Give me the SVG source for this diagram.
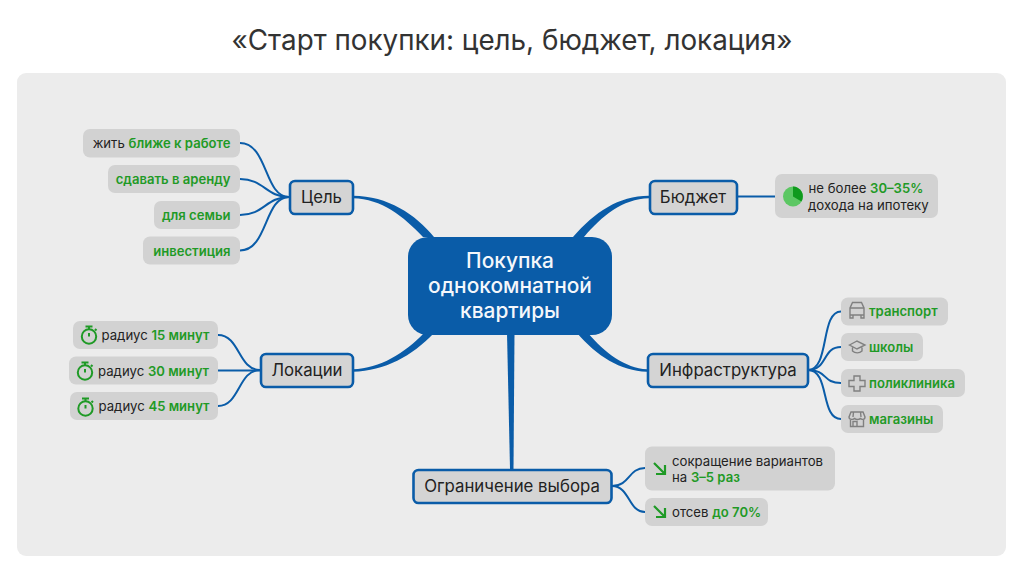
<svg xmlns="http://www.w3.org/2000/svg" width="1024" height="572" viewBox="0 0 1024 572">
<style>
text{font-family:Inter,"Noto Sans",sans-serif;fill:#222}
.title{font-size:27.800px;fill:#333;text-anchor:middle}
.c{font-size:20.900px;font-weight:500;fill:#f4f7fb;text-anchor:middle}
.n{font-size:16.800px;text-anchor:middle}
.nb{fill:#d4d4d4;stroke:#0a5ca8;stroke-width:2.600}
.lb{fill:#d2d2d2}
.l{font-size:13.200px}
.g{fill:#1f9a26;font-weight:600;font-size:13.100px}
.e{text-anchor:end}
.w{fill:none;stroke:#0a5ca8;stroke-width:2}
.ic{fill:none;stroke:#1f9a26;stroke-width:2}
.gr{fill:none;stroke:#808080;stroke-width:1.400}
</style>
<rect x="17" y="73" width="989" height="483" rx="9" fill="#ececec"/>
<text class="title" x="512" y="50">«Старт покупки: цель, бюджет, локация»</text>
<g id="connectors">
<path d="M353 195.700C388 196 415 214 434 237L423 237C403 216 382 199 353 198.300Z" fill="#0a5ca8"/>
<path d="M649 195.700C618 196 595 212 573 237L584 237C602 216 622 199 649 198.300Z" fill="#0a5ca8"/>
<path d="M353 369.300C380 368.500 405 353 424 333L434 333C412 356 385 371 353 371.700Z" fill="#0a5ca8"/>
<path d="M647 369.300C625 368 605 353 588 333L577 333C597 356 620 371 647 371.700Z" fill="#0a5ca8"/>
<path d="M507 333L514.500 333L513.500 469L510 469Z" fill="#0a5ca8"/>
<path class="w" d="M240 143C268 143 264 197 289 197"/>
<path class="w" d="M240 179C264 179 266 197 289 197"/>
<path class="w" d="M240 215C264 215 266 197 289 197"/>
<path class="w" d="M240 250.500C268 250.500 264 197 289 197"/>
<path class="w" d="M218 335C240 335 238 370 260 370"/>
<path class="w" d="M218 370.500L260 370.500"/>
<path class="w" d="M218 406C240 406 238 370 260 370"/>
<path class="w" d="M737 196.500L775 196.500"/>
<path class="w" d="M808 370C830 370 820 311.500 841 311.500"/>
<path class="w" d="M808 370C828 370 822 347 841 347"/>
<path class="w" d="M808 370C828 370 822 383 841 383"/>
<path class="w" d="M808 370C830 370 820 419 841 419"/>
<path class="w" d="M612 486C630 486 628 468 645 468"/>
<path class="w" d="M612 486C630 486 628 512 645 512"/>
</g>
<g id="center"><rect x="408" y="237" width="204" height="98" rx="20" fill="#0a5ca8"/>
<text class="c" x="510" y="268">Покупка</text><text class="c" x="510" y="293">однокомнатной</text><text class="c" x="510" y="318">квартиры</text></g>
<g id="n-goal"><rect class="nb" x="290" y="181" width="63" height="33" rx="5"/><text class="n" x="321.500" y="203">Цель</text></g>
<g id="n-budget"><rect class="nb" x="650" y="181" width="87" height="33" rx="5"/><text class="n" x="693" y="203">Бюджет</text></g>
<g id="n-loc"><rect class="nb" x="261" y="354" width="92" height="33" rx="5"/><text class="n" x="307" y="376">Локации</text></g>
<g id="n-infra"><rect class="nb" x="648" y="354" width="160" height="33" rx="5"/><text class="n" x="728" y="376">Инфраструктура</text></g>
<g id="n-limit"><rect class="nb" x="413.500" y="470" width="198" height="33" rx="5"/><text class="n" x="512" y="492">Ограничение выбора</text></g>
<g id="l-work"><rect class="lb" x="83" y="129" width="157" height="28.500" rx="7"/><text class="l e" x="230.500" y="148"><tspan>жить </tspan><tspan class="g">ближе к работе</tspan></text></g>
<g id="l-rent"><rect class="lb" x="108" y="165" width="132" height="28" rx="7"/><text class="l g e" x="230.500" y="184">сдавать в аренду</text></g>
<g id="l-family"><rect class="lb" x="154" y="201" width="86" height="28" rx="7"/><text class="l g e" x="230.500" y="220">для семьи</text></g>
<g id="l-invest"><rect class="lb" x="143" y="236.500" width="97" height="28" rx="7"/><text class="l g e" x="230.500" y="255.500">инвестиция</text></g>
<defs><g id="timer"><circle class="ic" cx="0" cy="1.500" r="7.200"/><path class="ic" d="M-3.500 -8.500H3.500M0 -8.500V-5.500M0 1.500V-2M6 -6L7.500 -4.500"/></g>
<g id="arrow"><path d="M1 1L12 12M12 3V12H3" fill="none" stroke="#1f9a26" stroke-width="2.200"/></g></defs>
<g id="l-15"><rect class="lb" x="73" y="321" width="145" height="28" rx="7"/><use href="#timer" x="89" y="335"/><text class="l" x="101.500" y="340"><tspan>радиус </tspan><tspan class="g">15 минут</tspan></text></g>
<g id="l-30"><rect class="lb" x="69" y="356.500" width="149" height="28" rx="7"/><use href="#timer" x="85" y="371"/><text class="l" x="98" y="375.500"><tspan>радиус </tspan><tspan class="g">30 минут</tspan></text></g>
<g id="l-45"><rect class="lb" x="70" y="392" width="148" height="28" rx="7"/><use href="#timer" x="85.500" y="407"/><text class="l" x="98.500" y="411"><tspan>радиус </tspan><tspan class="g">45 минут</tspan></text></g>
<g id="l-mortgage"><rect class="lb" x="775" y="174" width="163" height="44" rx="7"/><circle cx="793" cy="196.500" r="10" fill="#5cc763"/><path d="M793 196.500V186.500A10 10 0 0 1 801.500 201.500Z" fill="#0f9a1d"/>
<text class="l" x="808.500" y="193"><tspan>не более </tspan><tspan class="g">30–35%</tspan></text><text class="l" x="808" y="209.500">дохода на ипотеку</text></g>
<g id="l-transport"><rect class="lb" x="841" y="297.500" width="107" height="28" rx="7"/><path class="gr" d="M850 315V308L852.500 302.500H861.500L864 308V315M850 308H864M850 315V318H853V315M861 315V318H864V315M850 315H864"/><text class="l g" x="869" y="316">транспорт</text></g>
<g id="l-school"><rect class="lb" x="841" y="333" width="82" height="28" rx="7"/><path class="gr" d="M849.500 345L857 341L865 345L857 349ZM852.500 347.500V351C855 353.500 859.500 353.500 862 351V347.500"/><text class="l g" x="869" y="352">школы</text></g>
<g id="l-clinic"><rect class="lb" x="841" y="369" width="124" height="28" rx="7"/><path class="gr" d="M854 376H860V380.500H865V386.500H860V391H854V386.500H849V380.500H854Z"/><text class="l g" x="869" y="388">поликлиника</text></g>
<g id="l-shop"><rect class="lb" x="841" y="405" width="102" height="28" rx="7"/><path class="gr" d="M851 412H863L865 417C865 420 861 420 860.500 418C860 420 855 420 854.500 418C854 420 849 420 849 417ZM850.500 420V426.500H863.500V420M853 426.500V421.500H857V426.500M853.500 412L853 417M860.500 412L861 417"/><text class="l g" x="869" y="424">магазины</text></g>
<g id="l-options"><rect class="lb" x="645" y="446.500" width="190" height="44" rx="7"/><use href="#arrow" x="653" y="462"/><text class="l" x="672" y="466"><tspan>сокращение вариантов</tspan></text><text class="l" x="672" y="482"><tspan>на </tspan><tspan class="g">3–5 раз</tspan></text></g>
<g id="l-cut"><rect class="lb" x="645" y="498" width="123" height="28" rx="7"/><use href="#arrow" x="653" y="505"/><text class="l" x="672" y="517"><tspan>отсев </tspan><tspan class="g">до 70%</tspan></text></g>
</svg>
